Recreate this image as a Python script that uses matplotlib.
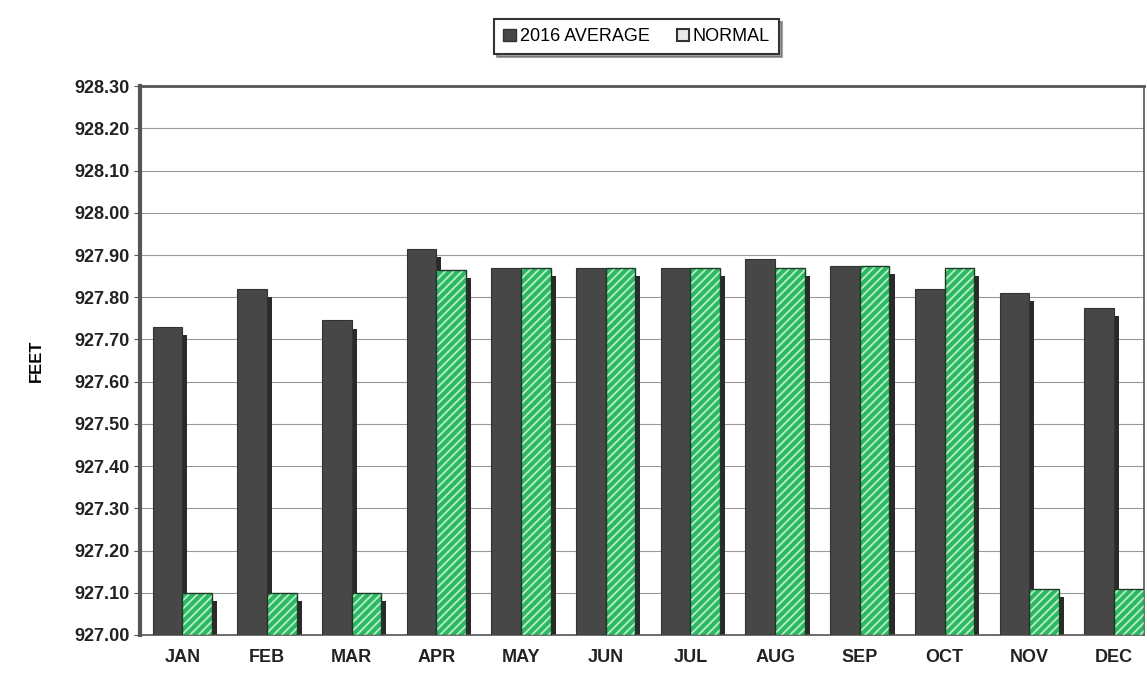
import matplotlib.pyplot as plt
import numpy as np

# data
months = ['JAN', 'FEB', 'MAR', 'APR', 'MAY', 'JUN', 'JUL', 'AUG', 'SEP', 'OCT', 'NOV', 'DEC']
avg_2016 = [927.73, 927.82, 927.745, 927.915, 927.87, 927.87, 927.87, 927.89, 927.875, 927.82, 927.81, 927.775]
normal = [927.10, 927.10, 927.10, 927.865, 927.87, 927.87, 927.87, 927.87, 927.875, 927.87, 927.11, 927.11]
yticks = np.round(np.arange(927.0, 928.31, 0.1), 2)

plt.rcParams['font.family'] = ['Liberation Sans', 'DejaVu Sans']
plt.rcParams['hatch.linewidth'] = 1.3

fig = plt.figure(figsize=(11.47, 6.73), dpi=100)
ax = fig.add_axes([0.122, 0.0565, 0.875, 0.8155])

x = np.arange(len(months))
w = 0.35
base = 927.0
avg_h = np.array(avg_2016) - base
norm_h = np.array(normal) - base

# shadow bars (gives the old 3D look)
ax.bar(x - w / 2 + 0.06, avg_h - 0.02, w, bottom=base, color='#2a2a2a', zorder=2)
ax.bar(x + w / 2 + 0.06, norm_h - 0.02, w, bottom=base, color='#2a2a2a', zorder=2)

ax.bar(x - w / 2, avg_h, w, bottom=base, color='#474747',
       edgecolor='#333333', linewidth=0.8, zorder=3, label='2016 AVERAGE')
# green fill with light hatching, then a dark outline on top
ax.bar(x + w / 2, norm_h, w, bottom=base, color='#2fb864',
       edgecolor='#b5f0c6', linewidth=0, hatch='////', zorder=4)
ax.bar(x + w / 2, norm_h, w, bottom=base, fill=False,
       edgecolor='#1d3a26', linewidth=1.0, zorder=5)

ax.set_ylim(927.0, 928.30)
ax.set_xlim(-0.5, 11.35)
ax.set_yticks(yticks)
ax.set_yticklabels(['%.2f' % v for v in yticks], fontsize=13, fontweight='bold', color='#222222')
ax.set_xticks(x)
ax.set_xticklabels(months, fontsize=13, fontweight='bold', color='#222222')
ax.tick_params(axis='x', length=0, pad=10)
ax.tick_params(axis='y', length=4, color='#555555')
ax.yaxis.grid(True, color='#9a9a9a', linewidth=0.8, zorder=0)
ax.set_axisbelow(True)
for s in ax.spines.values():
    s.set_color('#555555')
    s.set_linewidth(1.2)
ax.spines['left'].set_linewidth(3)
ax.spines['top'].set_linewidth(2)

ax.set_ylabel('FEET', fontsize=12, fontweight='bold', labelpad=22)

# legend handles
h1 = plt.Rectangle((0, 0), 1, 1, facecolor='#474747', edgecolor='#333333')
h2 = plt.Rectangle((0, 0), 1, 1, facecolor='#e8e8e8', edgecolor='#333333', linewidth=1.5)
leg = fig.legend([h1, h2], ['2016 AVERAGE', 'NORMAL'], loc='upper center',
                 bbox_to_anchor=(0.555, 0.985), ncol=2,
                 fontsize=13, frameon=True, fancybox=False, shadow=True,
                 handlelength=0.7, handleheight=0.7, handletextpad=0.2,
                 columnspacing=1.5, borderpad=0.5)
leg.get_frame().set_edgecolor('#333333')
leg.get_frame().set_linewidth(1.5)

fig.savefig('out.png', dpi=100)
